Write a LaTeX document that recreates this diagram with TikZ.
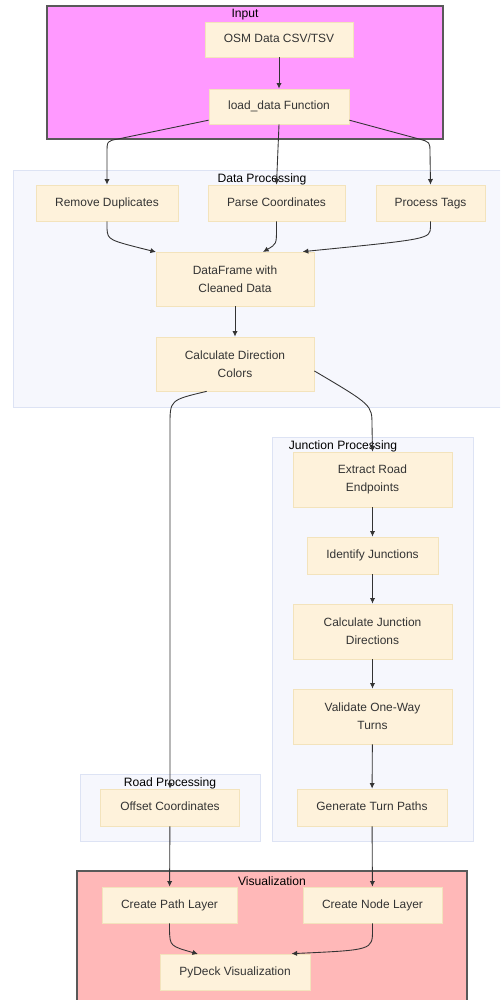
\documentclass[tikz,border=0pt]{standalone}
\usepackage{fontspec}
\setmainfont{Liberation Sans}
\usetikzlibrary{arrows.meta}

\definecolor{inputfill}{HTML}{FF99FF}
\definecolor{visfill}{HTML}{FFB8B8}
\definecolor{groupfill}{HTML}{F6F7FD}
\definecolor{groupedge}{HTML}{DDE3F4}
\definecolor{nodefill}{HTML}{FEF2DB}
\definecolor{nodeedge}{HTML}{F3E3BC}
\definecolor{textgray}{HTML}{333333}

\tikzset{
    proc/.style={draw=nodeedge, fill=nodefill, text=textgray, inner sep=0pt, align=center,
        font=\fontsize{6.8}{10}\selectfont},
    oneline/.style={text height=5.2pt, text depth=1.4pt},
    grouplabel/.style={font=\fontsize{6.9}{8}\selectfont, inner sep=0pt},
    flow/.style={draw=textgray, line width=0.5pt, -{Latex[length=3.2pt,width=3pt]}}
}

\begin{document}
\begin{tikzpicture}[x=0.02cm, y=-0.02cm]
            \useasboundingbox (0, 0) rectangle (500, 1000);
            \clip (0, 0) rectangle (500, 1000);
            %\draw[lightgray] (0, 0) grid[step=50] (500, 1000);
            \fill[white] (0, 0) rectangle (500, 1000);
            \draw[fill=inputfill, draw=black!65, line width=0.8pt] (47, 6) rectangle (443, 139);
            \draw[fill=groupfill, draw=groupedge, line width=0.5pt] (13, 170) rectangle (502, 407);
            \draw[fill=groupfill, draw=groupedge, line width=0.5pt] (272, 437) rectangle (473, 841);
            \draw[fill=groupfill, draw=groupedge, line width=0.5pt] (80, 774) rectangle (260, 841);
            \draw[fill=visfill, draw=black!65, line width=0.8pt] (77, 871) rectangle (467, 1003);
            \node[grouplabel] (inputlbl) at (245, 15) {Input};
            \node[grouplabel] (datalbl) at (262, 179) {Data Processing};
            \node[grouplabel] (junclbl) at (343, 446) {Junction Processing};
            \node[grouplabel] (roadlbl) at (170, 783) {Road Processing};
            \node[grouplabel] (vislbl) at (272, 881) {Visualization};
            \node[proc, oneline, minimum width=148*0.02cm, minimum height=35*0.02cm] (osm) at (279, 39.5) {OSM Data CSV/TSV};
            \node[proc, oneline, minimum width=140*0.02cm, minimum height=35*0.02cm] (load) at (279, 106.5) {load\_data Function};
            \node[proc, oneline, minimum width=142*0.02cm, minimum height=36*0.02cm] (dedup) at (107, 203) {Remove Duplicates};
            \node[proc, oneline, minimum width=137*0.02cm, minimum height=36*0.02cm] (parse) at (276.5, 203) {Parse Coordinates};
            \node[proc, oneline, minimum width=109*0.02cm, minimum height=36*0.02cm] (tags) at (430.5, 203) {Process Tags};
            \node[proc, minimum width=158*0.02cm, minimum height=54*0.02cm] (frame) at (235, 279) {DataFrame with\\Cleaned Data};
            \node[proc, minimum width=158*0.02cm, minimum height=54*0.02cm] (dircol) at (235, 364) {Calculate Direction\\Colors};
            \node[proc, minimum width=159*0.02cm, minimum height=55*0.02cm] (ends) at (372.5, 479.5) {Extract Road\\Endpoints};
            \node[proc, oneline, minimum width=131*0.02cm, minimum height=37*0.02cm] (ident) at (372.5, 555.5) {Identify Junctions};
            \node[proc, minimum width=159*0.02cm, minimum height=55*0.02cm] (jdir) at (372.5, 631.5) {Calculate Junction\\Directions};
            \node[proc, minimum width=159*0.02cm, minimum height=55*0.02cm] (oneway) at (372.5, 716.5) {Validate One-Way\\Turns};
            \node[proc, oneline, minimum width=150*0.02cm, minimum height=37*0.02cm] (turns) at (372, 807.5) {Generate Turn Paths};
            \node[proc, oneline, minimum width=139*0.02cm, minimum height=37*0.02cm] (offset) at (170, 807.5) {Offset Coordinates};
            \node[proc, oneline, minimum width=135*0.02cm, minimum height=36*0.02cm] (pathlayer) at (169.5, 905) {Create Path Layer};
            \node[proc, oneline, minimum width=139*0.02cm, minimum height=36*0.02cm] (nodelayer) at (372.5, 905) {Create Node Layer};
            \node[proc, oneline, minimum width=150*0.02cm, minimum height=36*0.02cm] (pydeck) at (235, 972) {PyDeck Visualization};
            \draw[flow] (osm) -- (load);
            \draw[flow] (load.191) -- (118, 139) .. controls (107, 141) .. (107, 153) -- (dedup.north);
            \draw[flow] (load.south) -- (parse.north);
            \draw[flow] (load.-11) -- (419, 139) .. controls (430, 142) .. (430, 153) -- (tags.north);
            \draw[flow] (dedup.south) -- (107, 229) .. controls (108, 240) .. (156, 252);
            \draw[flow] (parse.south) -- (276.5, 229) .. controls (276.5, 244) .. (263, 252);
            \draw[flow] (tags.south) -- (430.5, 227) .. controls (430, 239) .. (frame.22);
            \draw[flow] (frame) -- (dircol);
            \draw[flow] (dircol.-136) .. controls (170, 400) .. (170, 425) -- (offset.north);
            \draw[flow] (dircol.-5) .. controls (372, 405) .. (372, 425) -- (ends.north);
            \draw[flow] (ends) -- (ident);
            \draw[flow] (ident) -- (jdir);
            \draw[flow] (jdir) -- (oneway);
            \draw[flow] (oneway) -- (turns);
            \draw[flow] (offset) -- (pathlayer);
            \draw[flow] (turns) -- (nodelayer);
            \draw[flow] (pathlayer.south) -- (169.5, 930) .. controls (170, 946) .. (198, 954);
            \draw[flow] (nodelayer.south) -- (372.5, 930) .. controls (372.5, 950) .. (pydeck.18);
        \end{tikzpicture}
\end{document}
